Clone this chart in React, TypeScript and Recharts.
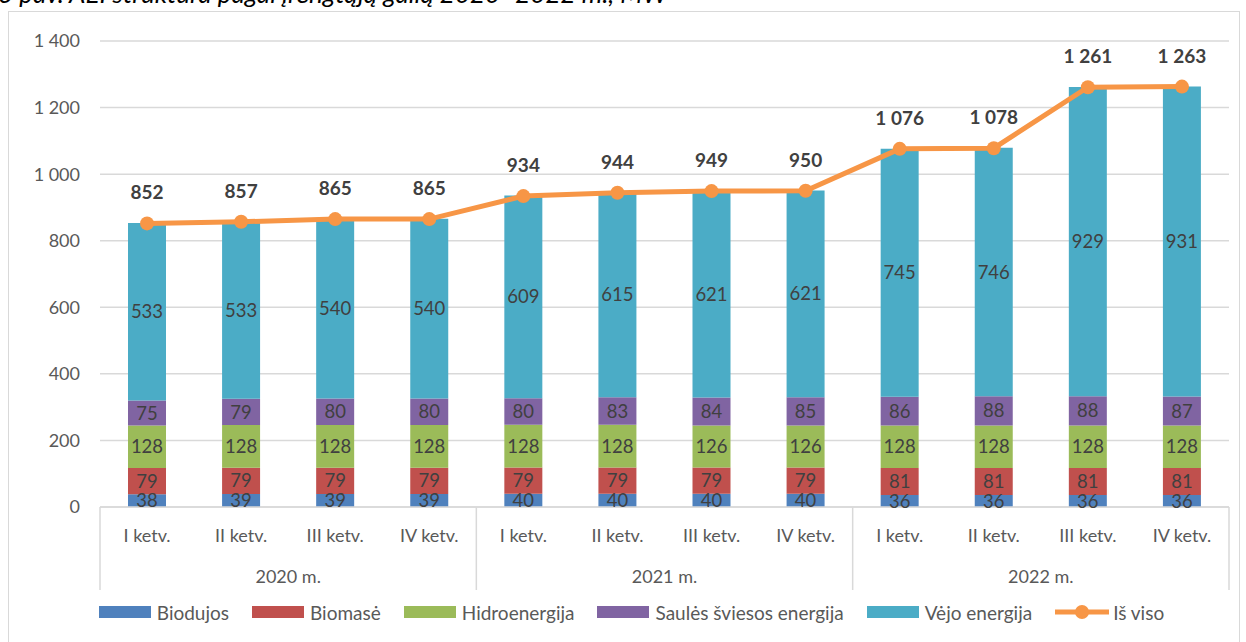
import { ComposedChart, Bar, Line, XAxis, YAxis, CartesianGrid, Legend, LabelList } from 'recharts';

const quarters = ['I ketv.', 'II ketv.', 'III ketv.', 'IV ketv.', 'I ketv.', 'II ketv.', 'III ketv.', 'IV ketv.', 'I ketv.', 'II ketv.', 'III ketv.', 'IV ketv.'];
const years = ['2020 m.', '2020 m.', '2020 m.', '2020 m.', '2021 m.', '2021 m.', '2021 m.', '2021 m.', '2022 m.', '2022 m.', '2022 m.', '2022 m.'];

const biodujos = [38, 39, 39, 39, 40, 40, 40, 40, 36, 36, 36, 36];
const biomase = [79, 79, 79, 79, 79, 79, 79, 79, 81, 81, 81, 81];
const hidro = [128, 128, 128, 128, 128, 128, 126, 126, 128, 128, 128, 128];
const saules = [75, 79, 80, 80, 80, 83, 84, 85, 86, 88, 88, 87];
const vejo = [533, 533, 540, 540, 609, 615, 621, 621, 745, 746, 929, 931];
const isViso = [852, 857, 865, 865, 934, 944, 949, 950, 1076, 1078, 1261, 1263];

const yTicks = [0, 200, 400, 600, 800, 1000, 1200, 1400];

const data = quarters.map((q, i) => ({
  q,
  year: years[i],
  biodujos: biodujos[i],
  biomase: biomase[i],
  hidro: hidro[i],
  saules: saules[i],
  vejo: vejo[i],
  total: isViso[i],
}));

const series = [
  { key: 'biodujos', name: 'Biodujos', color: '#4F81BD' },
  { key: 'biomase', name: 'Biomasė', color: '#C0504D' },
  { key: 'hidro', name: 'Hidroenergija', color: '#9BBB59' },
  { key: 'saules', name: 'Saulės šviesos energija', color: '#8064A2' },
  { key: 'vejo', name: 'Vėjo energija', color: '#4BACC6' },
];

const FONT = 'Lato, "Open Sans", sans-serif';
const fmt = (v: number) => String(v).replace(/\B(?=(\d{3})+(?!\d))/g, ' ');

const QuarterTick = (props: any) => {
  const { x, y, index, payload, width } = props;
  const n = quarters.length;
  const step = width / n;
  const first = index % 4 === 0;
  const last = index === n - 1;
  return (
    <g>
      <text x={x} y={y + 28} textAnchor="middle" dominantBaseline="central" fill="#595959" fontSize={18} fontFamily={FONT}>
        {payload.value}
      </text>
      {first && <line x1={x - step / 2} x2={x - step / 2} y1={y} y2={y + 83} stroke="#d9d9d9" strokeWidth={1.5} />}
      {last && <line x1={x + step / 2} x2={x + step / 2} y1={y} y2={y + 83} stroke="#d9d9d9" strokeWidth={1.5} />}
      {index % 4 === 1 && (
        <text x={x + step / 2} y={y + 69} textAnchor="middle" dominantBaseline="central" fill="#595959" fontSize={18} fontFamily={FONT}>
          {years[index]}
        </text>
      )}
    </g>
  );
};

const LegendContent = () => (
  <div style={{ display: 'flex', justifyContent: 'center', alignItems: 'center', fontFamily: FONT, fontSize: 19, color: '#595959', height: 30, paddingLeft: 24 }}>
    {series.map((s) => (
      <div key={s.key} style={{ display: 'flex', alignItems: 'center', marginRight: 23 }}>
        <span style={{ display: 'inline-block', width: 52, height: 12, background: s.color, marginRight: 6 }} />
        <span>{s.name}</span>
      </div>
    ))}
    <div style={{ display: 'flex', alignItems: 'center' }}>
      <svg width={54} height={16} style={{ marginRight: 4 }}>
        <line x1={0} x2={54} y1={8} y2={8} stroke="#F79646" strokeWidth={5} />
        <circle cx={27} cy={8} r={7} fill="#F79646" />
      </svg>
      <span>Iš viso</span>
    </div>
  </div>
);

export default function App() {
  return (
    <div style={{ position: 'absolute', left: 0, top: 0, width: 1246, height: 642, overflow: 'hidden', background: '#fff' }}>
      <div style={{ position: 'absolute', left: -2, top: -20, fontFamily: FONT, fontStyle: 'italic', fontSize: 26, lineHeight: '26px', color: '#000', whiteSpace: 'nowrap' }}>
        3 pav. AEI struktūra pagal įrengtąją galią 2020–2022 m., MW
      </div>
      <div style={{ position: 'absolute', left: 8, top: 11, width: 1230, height: 650, border: '1.5px solid #d9d9d9' }} />
      <div style={{ position: 'absolute', left: 0, top: 0 }}>
        <ComposedChart width={1246} height={642} data={data} margin={{ top: 41, right: 17, left: 10, bottom: 15 }} barSize={38}>
          <CartesianGrid vertical={false} stroke="#d9d9d9" strokeWidth={1.5} />
          <XAxis
            dataKey="q"
            interval={0}
            height={90}
            tickSize={0}
            tickMargin={0}
            tickLine={false}
            axisLine={{ stroke: '#d9d9d9', strokeWidth: 1.5 }}
            tick={<QuarterTick />}
          />
          <YAxis
            domain={[0, 1400]}
            ticks={yTicks}
            width={90}
            axisLine={false}
            tickLine={false}
            tickSize={0}
            tickMargin={20}
            tickFormatter={fmt}
            tick={{ fill: '#595959', fontSize: 18, fontFamily: FONT }}
          />
          <Legend verticalAlign="bottom" content={<LegendContent />} wrapperStyle={{ height: 30 }} />
          {series.map((s) => (
            <Bar key={s.key} dataKey={s.key} name={s.name} stackId="a" fill={s.color} isAnimationActive={false}>
              <LabelList dataKey={s.key} position="center" fill="#404040" fontSize={18.5} fontFamily={FONT} />
            </Bar>
          ))}
          <Line
            type="linear"
            dataKey="total"
            name="Iš viso"
            stroke="#F79646"
            strokeWidth={5}
            dot={{ r: 7, fill: '#F79646', stroke: '#F79646', strokeWidth: 0 }}
            isAnimationActive={false}
          >
            <LabelList dataKey="total" position="top" offset={24} formatter={(v: any) => fmt(Number(v))} fill="#404040" fontSize={19} fontWeight="bold" fontFamily={FONT} />
          </Line>
        </ComposedChart>
      </div>
    </div>
  );
}
